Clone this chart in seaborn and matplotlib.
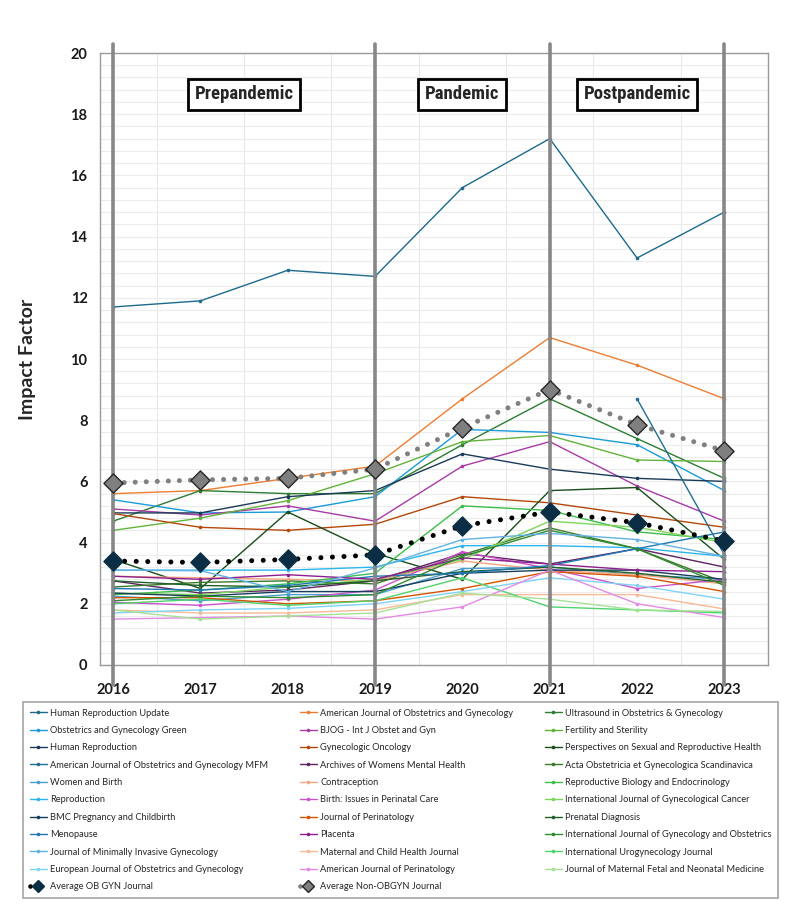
import numpy as np
import pandas as pd
import matplotlib
matplotlib.use("Agg")
import matplotlib.pyplot as plt
import seaborn as sns
from matplotlib.lines import Line2D

# ---------------- data ----------------
years = [2016, 2017, 2018, 2019, 2020, 2021, 2022, 2023]
period_bounds = [2016, 2019, 2021, 2023]
period_labels = ["Prepandemic", "Pandemic", "Postpandemic"]

hru = [11.7, 11.9, 12.9, 12.7, 15.6, 17.2, 13.3, 14.8]
ajog = [5.6, 5.7, 6.1, 6.5, 8.7, 10.7, 9.8, 8.7]
uog = [4.7, 5.7, 5.6, 5.6, 7.2, 8.7, 7.4, 6.1]
og_green = [5.4, 4.97, 5.0, 5.5, 7.7, 7.6, 7.2, 5.7]
bjog = [5.1, 4.9, 5.2, 4.7, 6.5, 7.3, 5.85, 4.7]
fertil = [4.4, 4.8, 5.37, 6.25, 7.3, 7.5, 6.7, 6.65]
hum_rep = [4.97, 4.97, 5.5, 5.7, 6.9, 6.4, 6.1, 6.0]
gyn_onc = [4.95, 4.5, 4.4, 4.6, 5.5, 5.3, 4.9, 4.5]
psrh = [3.45, 2.5, 5.0, 3.65, 2.8, 5.7, 5.8, 3.45]
ajog_mfm = [np.nan, np.nan, np.nan, np.nan, np.nan, np.nan, 8.7, 3.6]
arch_wmh = [2.75, 2.35, 2.45, 2.75, 3.65, 3.3, 3.8, 3.2]
acta = [2.55, 2.7, 2.75, 2.65, 3.6, 4.48, 3.8, 2.7]
women_birth = [2.25, 2.1, 2.3, 2.3, 3.15, 3.2, 2.95, 2.8]
contracep = [2.9, 2.85, 2.8, 2.75, 3.4, 3.1, 2.95, 2.65]
rbe = [2.3, 2.45, 2.65, 3.0, 5.2, 5.05, 4.35, 4.1]
reproduction = [3.1, 3.1, 3.1, 3.2, 3.9, 3.9, 3.83, 3.55]
birth = [2.05, 1.95, 2.15, 2.45, 3.7, 3.15, 2.5, 2.8]
ijgc = [2.35, 2.3, 2.55, 2.8, 3.45, 4.7, 4.5, 4.0]
bmc_preg = [2.35, 2.25, 2.4, 2.4, 3.0, 3.1, 3.1, 2.8]
j_perinat = [2.2, 2.2, 2.0, 2.1, 2.5, 3.05, 2.9, 2.4]
prenatal = [2.75, 2.6, 2.55, 2.75, 3.05, 3.2, 3.0, 2.7]
menopause = [2.5, 2.45, 2.6, 2.9, 3.0, 3.25, 3.8, 4.35]
placenta = [2.9, 2.8, 2.95, 2.8, 3.5, 3.3, 3.1, 3.05]
ijgo = [2.1, 2.25, 2.2, 2.3, 3.55, 4.4, 3.8, 2.6]
jmig = [3.1, 3.08, 2.4, 3.17, 4.1, 4.3, 4.1, 3.55]
mchj = [1.8, 1.7, 1.7, 1.8, 2.3, 2.3, 2.3, 1.83]
iuj = [2.0, 2.15, 1.95, 2.1, 2.85, 1.9, 1.8, 1.7]
ejog = [1.7, 1.8, 1.85, 2.0, 2.4, 2.85, 2.6, 2.15]
ajp = [1.5, 1.55, 1.6, 1.5, 1.9, 3.1, 2.0, 1.55]
jmfnm = [1.8, 1.5, 1.6, 1.7, 2.35, 2.15, 1.8, 1.75]

avg_obgyn = [3.4, 3.35, 3.45, 3.6, 4.55, 5.0, 4.65, 4.05]
avg_non_obgyn = [5.95, 6.05, 6.1, 6.4, 7.75, 9.0, 7.85, 7.0]

journal_names = [
    "Human Reproduction Update", "American Journal of Obstetrics and Gynecology", "Ultrasound in Obstetrics & Gynecology",
    "Obstetrics and Gynecology Green", "BJOG - Int J Obstet and Gyn", "Fertility and Sterility",
    "Human Reproduction", "Gynecologic Oncology", "Perspectives on Sexual and Reproductive Health",
    "American Journal of Obstetrics and Gynecology MFM", "Archives of Womens Mental Health", "Acta Obstetricia et Gynecologica Scandinavica",
    "Women and Birth", "Contraception", "Reproductive Biology and Endocrinology",
    "Reproduction", "Birth: Issues in Perinatal Care", "International Journal of Gynecological Cancer",
    "BMC Pregnancy and Childbirth", "Journal of Perinatology", "Prenatal Diagnosis",
    "Menopause", "Placenta", "International Journal of Gynecology and Obstetrics",
    "Journal of Minimally Invasive Gynecology", "Maternal and Child Health Journal", "International Urogynecology Journal",
    "European Journal of Obstetrics and Gynecology", "American Journal of Perinatology", "Journal of Maternal Fetal and Neonatal Medicine",
]
journal_values = [
    hru, ajog, uog, og_green, bjog, fertil, hum_rep, gyn_onc, psrh,
    ajog_mfm, arch_wmh, acta, women_birth, contracep, rbe, reproduction, birth, ijgc,
    bmc_preg, j_perinat, prenatal, menopause, placenta, ijgo, jmig, mchj, iuj,
    ejog, ajp, jmfnm,
]
avg_names = ["Average OB GYN Journal", "Average Non-OBGYN Journal"]

# ---------------- styles ----------------
journal_colors = [
    "#1d6a8c", "#ed7d31", "#2d7d32",
    "#1a9bd7", "#a83ba8", "#62b33b",
    "#1b3a57", "#b5470b", "#1a4d1a",
    "#1f6e94", "#5c2360", "#3a7a2a",
    "#4a9fd0", "#f4a582", "#3ebd4b",
    "#2cb5ec", "#cc52cc", "#7dd65a",
    "#173f5c", "#d35400", "#225e2a",
    "#1f77b4", "#8e1f8e", "#2e8b2e",
    "#62b2e4", "#f7b996", "#4fd36f",
    "#7fd3f7", "#e589e5", "#a5e394",
]
palette = dict(zip(journal_names, journal_colors))

rows = []
for name, vals in zip(journal_names, journal_values):
    for yr, v in zip(years, vals):
        if not np.isnan(v):
            rows.append({"Year": yr, "Impact Factor": v, "Journal": name})
df = pd.DataFrame(rows)

sns.set_theme(style="white")
plt.rcParams["font.family"] = ["Lato", "DejaVu Sans"]

W, H = 797, 911
fig = plt.figure(figsize=(W / 100, H / 100), dpi=100)
ax = fig.add_axes([100 / W, 246 / H, 668 / W, 612 / H])

# grid
ax.set_xlim(2015.85, 2023.5)
ax.set_ylim(0, 20)
ax.set_xticks(years)
ax.set_xticks(np.arange(2016.5, 2023.0, 1.0), minor=True)
ax.set_yticks(np.arange(0, 21, 2))
ax.set_yticks(np.arange(0, 20.01, 0.4), minor=True)
ax.yaxis.grid(True, which="both", color="#ECECEC", lw=0.8)
ax.xaxis.grid(True, which="minor", color="#E8E8E8", lw=0.8)
ax.xaxis.grid(False, which="major")
ax.set_axisbelow(True)

sns.lineplot(data=df, x="Year", y="Impact Factor", hue="Journal", hue_order=journal_names,
             palette=palette, marker="o", markersize=2.6, markeredgewidth=0,
             linewidth=1.0, legend=False, estimator=None, sort=True, ax=ax, zorder=2)

# period separators
for xb in period_bounds:
    ax.axvline(xb, ymin=-0.033, ymax=1.015, color="#878787", lw=2.6, clip_on=False, zorder=3)

# averages
sns.lineplot(x=years, y=avg_non_obgyn, color="#808080", linewidth=3.6,
             linestyle=(0, (0.01, 2.2)), dash_capstyle="round", ax=ax, zorder=4)
sns.lineplot(x=years, y=avg_obgyn, color="black", linewidth=3.6,
             linestyle=(0, (0.01, 2.3)), dash_capstyle="round", ax=ax, zorder=4)
sns.scatterplot(x=years, y=avg_non_obgyn, marker="D", s=95, color="#7f7f7f",
                edgecolor="#262626", linewidth=1.0, ax=ax, zorder=6)
sns.scatterplot(x=years, y=avg_obgyn, marker="D", s=95, color="#0b2e44",
                edgecolor="#0b2e44", linewidth=1.0, ax=ax, zorder=6)

# period labels
narrow = ["Liberation Sans Narrow", "Roboto Condensed", "Liberation Sans", "DejaVu Sans"]
for lab, a, b in zip(period_labels, period_bounds[:-1], period_bounds[1:]):
    ax.text((a + b) / 2, 18.65, lab, ha="center", va="center", fontsize=13.5,
            fontweight="bold", family=narrow, zorder=7,
            bbox=dict(boxstyle="square,pad=0.36", fc="white", ec="black", lw=2))

ax.set_xlabel("")
ax.set_ylabel("")
ax.tick_params(axis="both", which="both", length=0)
ax.tick_params(axis="x", pad=13)
ax.tick_params(axis="y", pad=9)
for t in ax.get_xticklabels() + ax.get_yticklabels():
    t.set_fontweight("bold")
    t.set_fontsize(10.5)
    t.set_color("#1a1a1a")
for sp in ax.spines.values():
    sp.set_color("#9a9a9a")
    sp.set_linewidth(1.0)

fig.text(28 / W, 1 - 359 / H, "Impact Factor", rotation=90, ha="center", va="center",
         fontsize=14, fontweight="bold")

# legend (Excel row-major order -> matplotlib column-major)
def jhandle(c):
    return Line2D([], [], color=c, lw=1.0, marker="o", markersize=2.6, markeredgewidth=0)

avg_handles = [
    Line2D([], [], color="black", lw=3.4, ls=(0, (0.01, 2.0)), dash_capstyle="round",
           marker="D", markersize=6, markerfacecolor="#0b2e44", markeredgecolor="#0b2e44"),
    Line2D([], [], color="#808080", lw=3.4, ls=(0, (0.01, 2.0)), dash_capstyle="round",
           marker="D", markersize=6, markerfacecolor="#7f7f7f", markeredgecolor="#262626"),
]
handles, labels = [], []
for c in range(3):
    for r in range(10):
        i = r * 3 + c
        handles.append(jhandle(journal_colors[i]))
        labels.append(journal_names[i])
    if c < 2:
        handles.append(avg_handles[c])
        labels.append(avg_names[c])

leg = fig.legend(handles, labels, loc="upper left",
                 bbox_to_anchor=(23 / W, 1 - 894 / H, 755 / W, 192 / H), mode="expand",
                 ncol=3, fontsize=6.7, frameon=True, fancybox=False, edgecolor="#a6a6a6",
                 borderaxespad=0, handlelength=1.9, handletextpad=0.3, labelspacing=0.9,
                 borderpad=0.7, framealpha=1)
leg.get_frame().set_linewidth(1.2)

fig.savefig("out.png", dpi=100, facecolor="white")
